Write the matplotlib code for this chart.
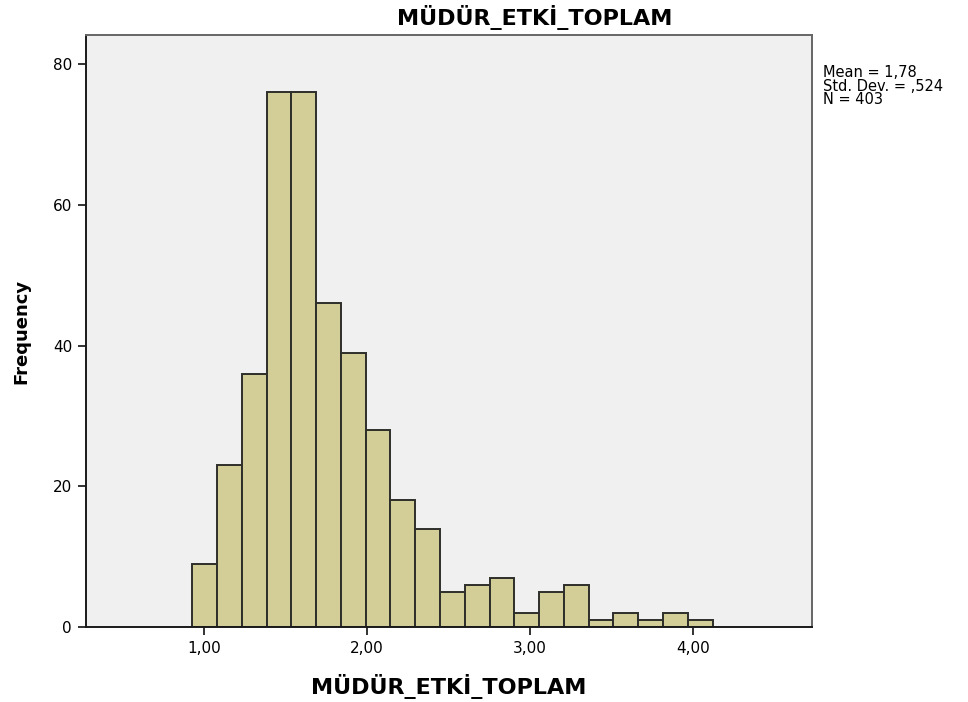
import matplotlib
matplotlib.use("Agg")
import matplotlib.pyplot as plt
import numpy as np

# SPSS output looks like stretched Arial; DejaVu Sans is the closest in width
plt.rcParams["font.family"] = ["DejaVu Sans"]

# histogram counts (N = 403)
counts = [9, 23, 36, 76, 76, 46, 39, 28, 18, 14, 5, 6, 7, 2, 5, 6, 1, 2, 1, 2, 1]
bin_start = 0.928
bin_width = 0.152
x_ticks = [1.0, 2.0, 3.0, 4.0]
x_tick_labels = ["1,00", "2,00", "3,00", "4,00"]
y_ticks = [0, 20, 40, 60, 80]
var_name = "MÜDÜR_ETKİ_TOPLAM"
stats_lines = ["Mean = 1,78", "Std. Dev. = ,524", "N = 403"]

edges = bin_start + bin_width * np.arange(len(counts))

fig = plt.figure(figsize=(9.68, 7.02), dpi=100)
ax = fig.add_axes([86 / 968, 1 - 627 / 702, (812 - 86) / 968, (627 - 35) / 702])
ax.set_facecolor("#F0F0F0")

ax.bar(edges, counts, width=bin_width, align="edge",
       color="#D3CE98", edgecolor="#2E2E2A", linewidth=1.4)

ax.set_xlim(0.276, 4.73)
ax.set_ylim(0, 84.15)

ax.set_xticks(x_ticks)
ax.set_xticklabels(x_tick_labels, fontsize=11)
ax.set_yticks(y_ticks)
ax.set_yticklabels([str(v) for v in y_ticks], fontsize=11)
ax.tick_params(direction="out", length=6, width=1.3, color="#222222", pad=4)

for side in ["left", "bottom"]:
    ax.spines[side].set_color("#1A1A1A")
    ax.spines[side].set_linewidth(1.4)
for side in ["top", "right"]:
    ax.spines[side].set_color("#666666")
    ax.spines[side].set_linewidth(1.4)

ax.set_xlabel(var_name, fontsize=16, fontweight="bold", labelpad=13)
ax.set_ylabel("Frequency", fontsize=13, fontweight="bold", labelpad=16)

fig.text(535 / 968, 1 - 17 / 702, var_name, ha="center", va="center",
         fontsize=16, fontweight="bold")

fig.text(823 / 968, 1 - 65 / 702, "\n".join(stats_lines), ha="left", va="top",
         fontsize=10.5, linespacing=0.88)

fig.savefig("out.png", dpi=100)
